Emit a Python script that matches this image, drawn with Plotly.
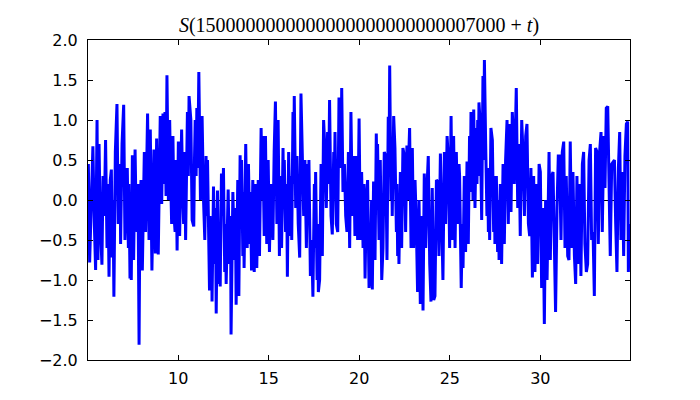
import plotly.graph_objects as go

# t offsets (x axis) and S values
t = [5.02, 5.04, 5.11, 5.29, 5.37, 5.44, 5.52, 5.57, 5.63, 5.70, 5.79, 5.85, 5.92, 5.99, 6.07, 6.12, 6.18, 6.25, 6.31, 6.36,
     6.40, 6.45, 6.53, 6.62, 6.69, 6.79, 6.82, 6.90, 6.99, 7.06, 7.14, 7.19, 7.25, 7.28, 7.34, 7.38, 7.41, 7.47, 7.54, 7.62,
     7.67, 7.73, 7.78, 7.84, 7.89, 7.95, 8.02, 8.08, 8.13, 8.20, 8.26, 8.31, 8.39, 8.46, 8.55, 8.61, 8.66, 8.74, 8.81, 8.90,
     8.96, 9.01, 9.09, 9.16, 9.22, 9.27, 9.33, 9.38, 9.46, 9.53, 9.59, 9.64, 9.71, 9.77, 9.83, 9.88, 9.94, 10.01, 10.08, 10.14,
     10.19, 10.25, 10.30, 10.36, 10.41, 10.51, 10.56, 10.60,
     10.70, 10.77, 10.86, 10.90, 10.94, 10.99, 11.03, 11.08, 11.14, 11.23, 11.29, 11.32, 11.40, 11.47, 11.54, 11.58, 11.62,
     11.67, 11.73, 11.76, 11.80, 11.84, 11.87, 11.95, 12.02, 12.06, 12.10, 12.17, 12.24, 12.28, 12.32, 12.39, 12.45, 12.50,
     12.57, 12.61, 12.65, 12.76, 12.83, 12.89, 12.92, 13.02, 13.11, 13.16, 13.20, 13.29, 13.35, 13.42, 13.46, 13.50, 13.57,
     13.61, 13.64, 13.73, 13.81, 13.88, 13.96, 13.99, 14.05, 14.12, 14.20, 14.27, 14.34, 14.42, 14.49, 14.58, 14.64, 14.67,
     14.75, 14.82, 14.89, 14.97, 15.04, 15.12, 15.23, 15.30, 15.37, 15.45, 15.52, 15.59,
     15.65, 15.71, 15.79, 15.82, 15.86, 15.93, 15.99, 16.03, 16.10, 16.19, 16.23, 16.27, 16.34, 16.38, 16.41, 16.49, 16.56,
     16.63, 16.71, 16.78, 16.85, 16.93, 17.00, 17.08, 17.15, 17.19, 17.22, 17.30, 17.37, 17.41, 17.44, 17.52, 17.55, 17.59,
     17.67, 17.70, 17.74, 17.81, 17.85, 17.89, 17.96, 18.03, 18.11, 18.18, 18.25, 18.31, 18.36, 18.44, 18.51, 18.59, 18.62,
     18.66, 18.73, 18.81, 18.88, 18.92, 18.95, 18.99, 19.03, 19.10, 19.18, 19.25, 19.32, 19.40, 19.47, 19.54, 19.62, 19.69,
     19.76, 19.84, 19.91, 19.99, 20.06, 20.13, 20.21, 20.26, 20.32, 20.39, 20.46, 20.54,
     20.61, 20.68, 20.72, 20.79, 20.87, 20.94, 20.98, 21.01, 21.09, 21.16, 21.24, 21.31, 21.35, 21.38, 21.46, 21.53, 21.60,
     21.64, 21.68, 21.75, 21.79, 21.82, 21.90, 21.97, 22.05, 22.08, 22.12, 22.16, 22.19, 22.27, 22.34, 22.41, 22.49, 22.52,
     22.56, 22.63, 22.67, 22.71, 22.78, 22.86, 22.93, 23.00, 23.08, 23.15, 23.22, 23.30, 23.37, 23.45, 23.52, 23.59, 23.67,
     23.74, 23.81, 23.89, 23.96, 24.03, 24.11, 24.18, 24.22, 24.26, 24.33, 24.40, 24.48, 24.55, 24.62, 24.70, 24.77, 24.85,
     24.92, 24.99, 25.07, 25.14, 25.21, 25.29, 25.36, 25.43, 25.51,
     25.54, 25.63, 25.69, 25.73, 25.80, 25.87, 25.95, 26.02, 26.09, 26.13, 26.17, 26.21, 26.24, 26.28, 26.32, 26.39, 26.46,
     26.50, 26.54, 26.57, 26.61, 26.68, 26.76, 26.83, 26.87, 26.91, 26.98, 27.05, 27.09, 27.13, 27.16, 27.20, 27.27, 27.35,
     27.42, 27.46, 27.49, 27.57, 27.64, 27.68, 27.72, 27.79, 27.86, 27.94, 28.01, 28.08, 28.16, 28.23, 28.30, 28.38, 28.45,
     28.53, 28.56, 28.60, 28.67, 28.75, 28.82, 28.89, 28.97, 29.04, 29.12, 29.19, 29.26, 29.34, 29.41, 29.48, 29.56, 29.63,
     29.70, 29.78, 29.85, 29.93, 30.00, 30.07, 30.15, 30.22, 30.29, 30.37, 30.44,
     30.48, 30.55, 30.62, 30.70, 30.77, 30.84, 30.92, 30.99, 31.06, 31.14, 31.21, 31.29, 31.36, 31.43, 31.51, 31.58, 31.65,
     31.73, 31.80, 31.88, 31.95, 32.02, 32.10, 32.17, 32.24, 32.32, 32.39, 32.46, 32.54, 32.61, 32.69, 32.76, 32.83, 32.91,
     32.98, 33.05, 33.13, 33.20, 33.27, 33.35, 33.42, 33.50, 33.57, 33.64, 33.72, 33.79, 33.86, 33.94, 34.01, 34.09, 34.16,
     34.23, 34.31, 34.38, 34.45, 34.53, 34.60, 34.67, 34.75, 34.82, 34.86, 34.93]

s = [0.1, 0.45, -0.78, 0.67, -0.3, -0.875, 1.0, -0.75, 0.7, -0.3, -0.81, 0.3, -0.2, 0.75, -0.6, 0.2, -0.96, 0.25, 0.38, -0.72,
     0.0, -1.21, 0.6, 1.2, -0.3, 0.45, -0.55, 0.7, 1.19, -0.5, 0.1, 0.4, -0.6, 0.2, -0.98, -0.2, -1.0, 0.56, -0.75, 0.63,
     -0.1, -0.4, 0.2, -1.81, 0.0, 0.25, -0.88, 0.3, 0.6, -0.4, 0.5, 1.08, -0.5, 0.88, -0.88, 0.3, 0.63, -0.67, 0.77, -0.68,
     0.5, 1.05, -0.05, 1.08, 0.2, 1.1, 0.05, 1.56, 0.0, 1.0, 0.2, -0.3, 0.8, -0.2, -0.4, 0.5, -0.63, 0.73, -0.45, 0.4,
     0.88, 0.1, -0.3, 0.6, -0.5, 1.1, 0.3, 1.3,
     1.0, -0.25, -0.33, 0.5, 1.0, 0.3, 1.15, 0.4, 1.6, 0.0, 0.6, 1.05, 0.0, -0.5, 0.55, -0.2, 0.5,
     -0.3, -1.13, -0.2, -0.8, -0.3, -1.27, 0.17, -0.8, -0.1, -1.42, 0.12, -1.05, -0.3, -1.08, 0.33, -0.2, 0.4,
     -0.9, -0.3, -1.05, 0.13, -0.8, -0.2, -1.68, 0.1, -0.75, -0.1, -1.31, 0.25, -1.2, 0.56, -0.2, 0.5, -0.7,
     0.1, -0.85, 0.7, -0.6, 0.45, -0.55, 0.1, -0.88, 0.25, -0.9, 0.2, -0.85, 0.25, -0.7, 0.9, 0.0, 0.8,
     -0.45, 0.8, -0.55, 0.5, -0.65, 0.2, -0.5, 0.6, 1.23, -0.3, 1.0, -0.7,
     0.3, -0.6, 0.65, -0.1, 0.5, -0.4, 0.2, -0.96, 0.6, -0.45, 0.3, -0.5, 1.1, 0.2, 1.3, -0.1, 0.55,
     -0.3, -0.72, 1.33, 0.6, -0.2, 0.5, -0.6, 0.45, -0.1, 0.5, -0.95, -0.5, -0.9, -1.21, 0.2, -0.6, 0.35,
     -1.0, -0.3, -1.15, -1.0, -0.2, 0.45, -0.7, 1.0, 0.6, -0.1, 0.85, 0.2, 1.25, -0.2, -0.43, 0.6, 0.1,
     0.85, -0.3, -0.4, 1.28, 0.5, 1.05, 0.4, 1.4, 0.1, 0.45, -0.2, -0.4, 0.6, -0.6, 1.1, -0.2, 0.55,
     -0.45, 0.55, -0.5, 1.02, -0.5, 0.35, -0.6, 0.2, -0.98, 0.0, 0.25, -1.1,
     -0.9, 0.0, -1.12, 0.23, -0.75, 0.83, 0.2, 0.7, -0.5, 0.5, -1.0, -0.6, 0.1, 0.6, 0.55, -0.75, 1.04,
     0.3, 1.68, 0.0, 0.6, -0.2, 1.05, 0.65, -0.4, 0.2, -0.7, 0.0, -0.8, 0.35, -0.6, 0.65, 0.55, -0.1,
     -0.4, 0.68, 0.0, 0.4, 0.9, -0.6, 0.65, -0.6, 0.25, -0.3, -1.15, 0.0, -1.3, -0.2, -1.38, 0.33, -0.6,
     0.15, 0.55, -0.8, -1.27, 0.15, -1.25, -1.2, -0.5, 0.25, 0.23, -0.7, 0.58, -0.4, -1.0, 0.6, -0.3, 0.8,
     0.5, -0.6, 1.05, -0.5, 0.8, -0.6, 0.6, -0.3, 0.45,
     0.3, -1.1, -0.3, -0.85, 0.3, -0.65, 0.48, -0.55, 0.8, 0.1, 1.1, 0.3, 0.8, 0.0, 1.13, -0.1, 0.9,
     0.2, 1.0, 0.3, 1.22, 0.95, -0.25, 1.55, 0.5, 1.75, 0.7, -0.2, 0.4, -0.4, 0.3, -0.5, 0.9, 0.75,
     -0.4, 0.3, -0.55, 0.3, -0.65, 0.0, -0.75, 0.2, -0.8, 0.45, -0.55, 0.5, 1.0, -0.3, 0.95, -0.15, 1.1,
     0.7, 0.2, 0.8, 1.4, -0.1, 0.7, -0.45, 1.0, 0.6, -0.2, 0.8, 0.95, -0.3, -0.45, 0.4, -0.97, 0.3,
     -0.9, 0.2, -0.8, 0.45, 0.35, -1.1, -0.1, -1.55, 0.0, -1.0, 0.55,
     0.6, -0.75, 0.3, 0.35, -0.4, -1.4, -0.1, 0.55, 0.55, -0.5, 0.6, 0.73, -0.6, 0.3, -0.7, -0.75, 0.73,
     -0.6, 0.35, -0.7, -1.05, 0.3, -0.8, 0.2, -0.95, 0.45, 0.6, -0.55, -0.9, -0.8, 0.5, 0.7, -0.5, -0.4,
     -1.2, 0.65, 0.6, -0.55, 0.6, 0.85, -0.4, 0.8, 0.15, 1.15, 1.17, 0.1, -0.7, 0.45, 0.48, 0.5, -0.3,
     -0.9, 0.4, 0.85, -0.5, 0.35, -0.7, 0.55, 0.95, 0.98, -0.9, -0.3]

x_ticks = [10, 15, 20, 25, 30]
y_ticks = [-2.0, -1.5, -1.0, -0.5, 0.0, 0.5, 1.0, 1.5, 2.0]
title_text = "<i>S</i>(15" + "0" * 25 + "7000 + <i>t</i>)"

fig = go.Figure()
fig.add_trace(go.Scatter(x=t, y=s, mode="lines",
                         line=dict(color="#0000ff", width=3), showlegend=False))

axis_common = dict(showline=True, linecolor="black", linewidth=1, mirror="allticks",
                   ticks="inside", ticklen=5, tickcolor="black", tickwidth=1,
                   showgrid=False,
                   tickfont=dict(family="DejaVu Sans", size=16, color="black"))

fig.update_xaxes(range=[5.02, 34.95], tickvals=x_ticks, ticktext=[str(v) for v in x_ticks],
                 zeroline=False, ticklabelstandoff=4, **axis_common)
fig.update_yaxes(range=[-2.0, 2.0], tickvals=y_ticks,
                 ticktext=[f"{v:.1f}".replace("-", "\u2212") for v in y_ticks],
                 zeroline=True, zerolinecolor="black", zerolinewidth=1,
                 ticklabelstandoff=6, **axis_common)

# the page body adds an 8 px offset, so margins are reduced by 8 px on the left/top
fig.update_layout(
    width=700, height=400,
    margin=dict(l=80, r=78, t=32, b=48),
    paper_bgcolor="white", plot_bgcolor="white",
    title=dict(text=title_text, x=0.5, xref="paper", y=1 - 17 / 400, yref="container",
               xanchor="center", yanchor="middle",
               font=dict(family="Liberation Serif", size=20, color="black")),
)

fig.write_html("out.html")
